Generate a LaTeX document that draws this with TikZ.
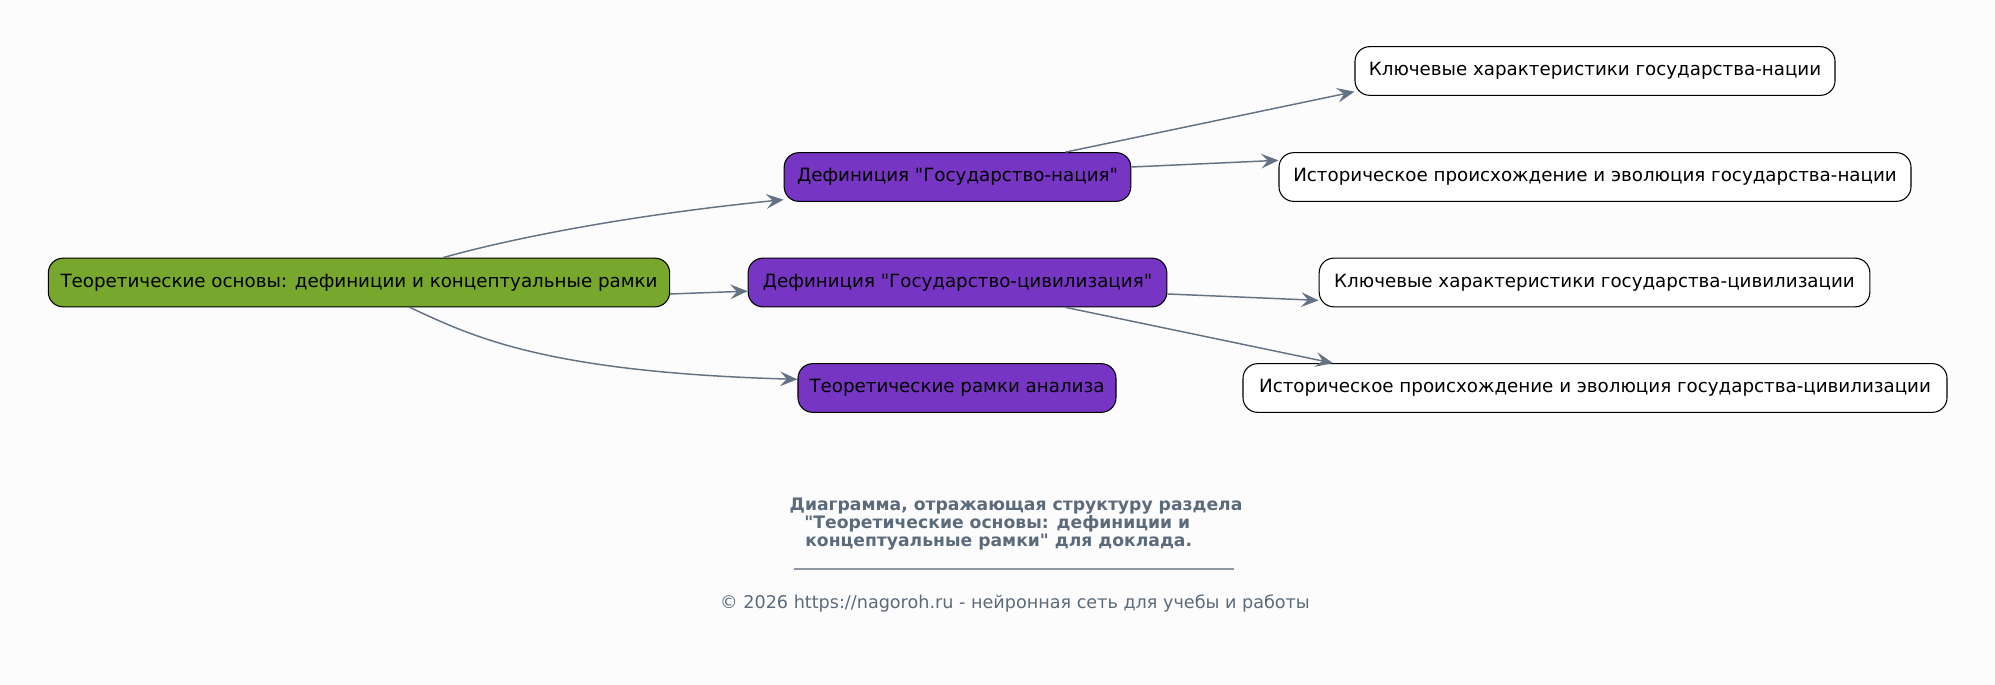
\documentclass[tikz,border=0pt]{standalone}
\usepackage{fontspec}
\setmainfont{DejaVu Sans}[Ligatures=TeXOff]
\usetikzlibrary{arrows.meta}
\definecolor{bg}{HTML}{FCFCFC}
\definecolor{rootgreen}{HTML}{78A72D}
\definecolor{defpurple}{HTML}{7635C2}
\definecolor{edgegray}{HTML}{637384}
\definecolor{titlegray}{HTML}{5B6B7B}
\tikzset{
  box/.style={draw=black, line width=0.8pt, rounded corners=11pt, minimum height=36.5pt,
    inner xsep=0pt, inner ysep=0pt, font=\fontsize{13.7pt}{16pt}\selectfont, text=black},
  rootbox/.style={box, fill=rootgreen},
  defbox/.style={box, fill=defpurple},
  leafbox/.style={box, fill=white},
  conn/.style={draw=edgegray, line width=1.1pt, -{Stealth[length=13pt, width=11pt, inset=5pt]}},
}
\begin{document}
\begin{tikzpicture}[x=0.75pt, y=-0.75pt]
\fill[bg] (0,0) rectangle (1995,685);
\useasboundingbox (0,0) rectangle (1995,685);

\node[rootbox, minimum width=466pt] (root) at (359,282.5) {Теоретические основы: дефиниции и концептуальные рамки};
\node[defbox, minimum width=260pt] (defn) at (957.5,177) {Дефиниция "Государство-нация"};
\node[defbox, minimum width=314pt] (defc) at (957.5,282.5) {Дефиниция "Государство-цивилизация"};
\node[defbox, minimum width=238.5pt] (frm) at (957,388) {Теоретические рамки анализа};
\node[leafbox, minimum width=360pt] (keyn) at (1595,71) {Ключевые характеристики государства-нации};
\node[leafbox, minimum width=474pt] (hisn) at (1595,177) {Историческое происхождение и эволюция государства-нации};
\node[leafbox, minimum width=413pt] (keyc) at (1594.5,282.5) {Ключевые характеристики государства-цивилизации};
\node[leafbox, minimum width=528pt] (hisc) at (1595,388) {Историческое происхождение и эволюция государства-цивилизации};

\draw[conn] ([xshift=63pt]root.north) .. controls (520,236) and (640,214) .. ([yshift=-17pt]defn.west);
\draw[conn] ([yshift=-8.6pt]root.east) -- ([yshift=-6.5pt]defc.west);
\draw[conn] ([xshift=38pt]root.south) .. controls (470,335) and (540,372) .. ([yshift=6.5pt]frm.west);
\draw[conn] ([xshift=81pt]defn.north) -- ([yshift=-15.5pt]keyn.west);
\draw[conn] ([yshift=7.5pt]defn.east) -- ([yshift=12.5pt]hisn.west);
\draw[conn] ([yshift=-8.6pt]defc.east) -- ([yshift=-13.4pt]keyc.west);
\draw[conn] ([xshift=81pt]defc.south) -- ([xshift=-196.5pt]hisc.north);

\node[font=\bfseries\fontsize{12.9pt}{13.6pt}\selectfont, text=titlegray, align=center] (title) at (1016,524)
  {Диаграмма, отражающая структуру раздела\\"Теоретические основы: дефиниции и\mbox{\hspace{28pt}}\\концептуальные рамки" для доклада.\mbox{\hspace{26pt}}};
\coordinate (ruleL) at (794,569);
\coordinate (ruleR) at (1234,569);
\draw[titlegray!70, line width=0.8pt] (ruleL) -- (ruleR);
\node[font=\fontsize{13.2pt}{14pt}\selectfont, text=titlegray] (copy) at (1015,603)
  {© 2026 https://nagoroh.ru - нейронная сеть для учебы и работы};
\end{tikzpicture}
\end{document}
